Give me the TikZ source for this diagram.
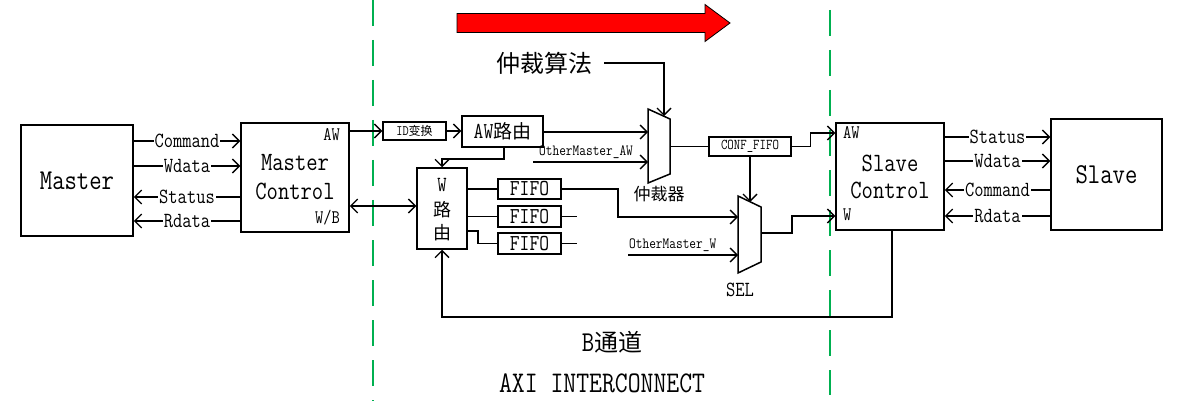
\documentclass[tikz,border=0pt]{standalone}
\usepackage{fontspec}
\usetikzlibrary{arrows.meta}
\newfontfamily\cjk{Noto Sans CJK SC}
\newcommand\fsz[1]{\fontsize{#1}{#1}\selectfont}
\newcommand\vs[1]{\scalebox{1}[1.2]{#1}}
\definecolor{dgreen}{RGB}{0,176,80}
\begin{document}
\begin{tikzpicture}[x=1pt,y=-1pt,
  every node/.style={font=\ttfamily, inner sep=0pt},
  blk/.style={draw, line width=1.5pt, inner sep=0pt},
  wire/.style={line width=1.4pt},
  arr/.style={wire, -{Straight Barb[length=7pt,width=14pt]}},
  darr/.style={wire, {Straight Barb[length=7pt,width=14pt]}-{Straight Barb[length=7pt,width=14pt]}},
  lbl/.style={fill=white, inner xsep=1pt, inner ysep=1pt, font=\ttfamily\fsz{18}},
  small/.style={font=\ttfamily\fsz{13}},
  gline/.style={draw=dgreen, line width=1.8pt, dash pattern=on 26pt off 14pt},
]
\useasboundingbox (0,0) rectangle (1179,401);

% green dashed borders
\draw[gline] (373,0) -- (373,401);
\draw[gline] (830,10) -- (830,395);

% red arrow
\draw[fill=red, line width=0.8pt] (457,13.5) -- (705,13.5) -- (705,4.5) -- (730,23) -- (705,41.5) -- (705,32.5) -- (457,32.5) -- cycle;

% blocks
\node[blk, minimum width=112pt, minimum height=111pt, font=\ttfamily\fsz{24}] (master) at (77,180.5) {\vs{Master}};
\node[blk, minimum width=108pt, minimum height=109pt] (mc) at (295,177.5) {};
\node[font=\ttfamily\fsz{22}] (mct1) at (295,163) {\vs{Master}};
\node[font=\ttfamily\fsz{22}] (mct2) at (295,191) {\vs{Control}};
\node[font=\ttfamily\fsz{16}, anchor=east] (mcaw) at (340,135) {\vs{AW}};
\node[font=\ttfamily\fsz{16}, anchor=east] (mcwb) at (340,218) {\vs{W/B}};

\node[blk, minimum width=63pt, minimum height=18pt] (idb) at (414.5,131) {\fsz{12}\vs{ID}{\cjk 变换}};
\node[blk, minimum width=81pt, minimum height=31pt] (awr) at (502.5,131.5) {\fsz{19}\vs{AW}{\cjk 路由}};
\node[blk, minimum width=50pt, minimum height=81pt] (wr) at (442,208.5) {};
\node[font=\ttfamily\fsz{18}] (wrt1) at (442,185) {\vs{W}};
\node[font=\cjk\fsz{18}] (wrt2) at (442,210) {路};
\node[font=\cjk\fsz{18}] (wrt3) at (442,233) {由};

\node[blk, minimum width=63pt, minimum height=20pt, font=\ttfamily\fsz{19}] (fifo1) at (529.5,189) {\vs{FIFO}};
\node[blk, minimum width=63pt, minimum height=21pt, font=\ttfamily\fsz{19}] (fifo2) at (529.5,216.5) {\vs{FIFO}};
\node[blk, minimum width=63pt, minimum height=21pt, font=\ttfamily\fsz{19}] (fifo3) at (529.5,243.5) {\vs{FIFO}};

\node[blk, minimum width=82pt, minimum height=19pt, font=\ttfamily\fsz{12.5}] (conf) at (750,146.5) {\vs{CONF\_FIFO}};

\node[blk, minimum width=108pt, minimum height=107pt] (sc) at (890,176.5) {};
\node[font=\ttfamily\fsz{22}] (sct1) at (890,163) {\vs{Slave}};
\node[font=\ttfamily\fsz{22}] (sct2) at (890,190) {\vs{Control}};
\node[font=\ttfamily\fsz{16}, anchor=west] (scaw) at (843,133) {\vs{AW}};
\node[font=\ttfamily\fsz{16}, anchor=west] (scw) at (843,215) {\vs{W}};

\node[blk, minimum width=111pt, minimum height=111pt, font=\ttfamily\fsz{24}] (slave) at (1106.5,174.5) {\vs{Slave}};

% muxes
\coordinate (a1) at (648,109); \coordinate (a2) at (670,119);
\coordinate (a3) at (670,174); \coordinate (a4) at (648,183);
\draw[line width=1.5pt, line join=miter] (a1) -- (a2) -- (a3) -- (a4) -- cycle;
\coordinate (b1) at (738,196); \coordinate (b2) at (761,207);
\coordinate (b3) at (761,262); \coordinate (b4) at (738,273);
\draw[line width=1.5pt, line join=miter] (b1) -- (b2) -- (b3) -- (b4) -- cycle;
\coordinate (arbtop) at (664,116);
\coordinate (seltop) at (750,202);

% texts
\node[font=\cjk\fsz{24}] (alg) at (544,63) {仲裁算法};
\node[font=\cjk\fsz{17}] (arb) at (659,194) {仲裁器};
\node[font=\ttfamily\fsz{18}] (sel) at (740,290) {\vs{SEL}};
\node[font=\ttfamily\fsz{24}] (bch) at (612,342) {\vs{B}{\cjk 通道}};
\node[font=\ttfamily\fsz{25}] (axi) at (602,383) {\vs{AXI INTERCONNECT}};
\node[small, anchor=south west] (omawt) at (539,158.5) {\vs{OtherMaster\_AW}};
\node[small, anchor=south west] (omwt) at (629,251.5) {\vs{OtherMaster\_W}};
\coordinate (omaw) at (533,162);
\coordinate (omw) at (628,255);

% left side wires
\draw[arr] (master.east |- 0,141) -- node[lbl]{\vs{Command}} (mc.west |- 0,141);
\draw[arr] (master.east |- 0,166) -- node[lbl]{\vs{Wdata}} (mc.west |- 0,166);
\draw[arr] (mc.west |- 0,197) -- node[lbl]{\vs{Status}} (master.east |- 0,197);
\draw[arr] (mc.west |- 0,221) -- node[lbl]{\vs{Rdata}} (master.east |- 0,221);

% interconnect wires
\draw[arr] (mc.east |- idb.west) -- (idb.west);
\draw[arr] (idb.east) -- (awr.west |- idb.east);
\draw[arr] (awr.east |- 0,132) -- (a1 |- 0,132);
\draw[arr] (omaw) -- (a1 |- omaw);
\draw[arr] ([xshift=12pt]alg.east) -| (arbtop);
\draw[arr] (504,0 |- awr.south) -- (504,159) -| (442,0 |- wr.north);
\draw[darr] (mc.east |- 0,206) -- (wr.west |- 0,206);
\draw[wire] (wr.east |- fifo1.west) -- (fifo1.west);
\draw[wire] (wr.east |- fifo2.west) -- (fifo2.west);
\draw[wire] (wr.east |- 0,231) -- (478,231) |- (fifo3.west);
\draw[wire] (fifo2.east) -- ++(15,0);
\draw[wire] (fifo3.east) -- ++(15,0);
\draw[arr] (fifo1.east) -| (618,217) -- (b1 |- 0,217);
\draw[arr] (omw) -- (b1 |- omw);
\draw[wire] (a2 |- conf.west) -- (conf.west);
\draw[arr] (conf.east) -- ++(19,0) |- (sc.west |- 0,133);
\draw[arr] (conf.south) -- (seltop);
\draw[arr] (b2 |- 0,233) -- (792,233) |- (sc.west |- 0,216);
\draw[arr] (892,0 |- sc.south) |- (442,317) -- (442,0 |- wr.south);

% right side wires
\draw[arr] (sc.east |- 0,137) -- node[lbl]{\vs{Status}} (slave.west |- 0,137);
\draw[arr] (sc.east |- 0,161) -- node[lbl]{\vs{Wdata}} (slave.west |- 0,161);
\draw[arr] (slave.west |- 0,190) -- node[lbl]{\vs{Command}} (sc.east |- 0,190);
\draw[arr] (slave.west |- 0,216) -- node[lbl]{\vs{Rdata}} (sc.east |- 0,216);
\end{tikzpicture}
\end{document}
